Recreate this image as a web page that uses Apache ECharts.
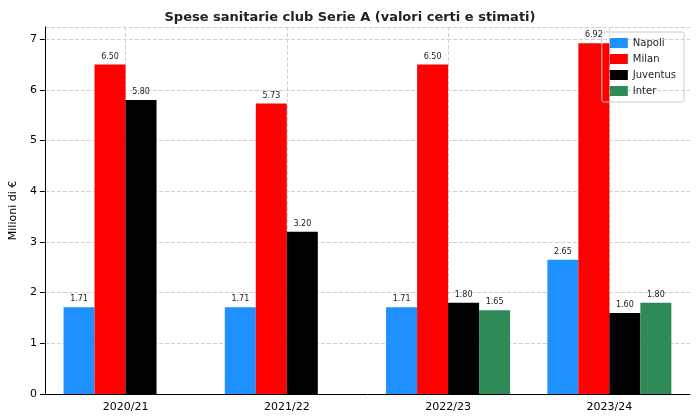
<!DOCTYPE html>
<html><head><meta charset="utf-8">
<script src="https://cdn.jsdelivr.net/npm/echarts@6/dist/echarts.min.js"></script>
<style>html,body{margin:0;padding:0;background:#fff}#c{width:700px;height:420px}</style>
</head><body><div id="c"></div>
<script>
const categories = ['2020/21','2021/22','2022/23','2023/24'];
const napoli = [1.71,1.71,1.71,2.65];
const milan = [6.50,5.73,6.50,6.92];
const juventus = [5.80,3.20,1.80,1.60];
const inter = [null,null,1.65,1.80];
const names = ['Napoli','Milan','Juventus','Inter'];
const colors = ['#1e90ff','#ff0000','#000000','#2e8b57'];
const datas = [napoli,milan,juventus,inter];
const chart = echarts.init(document.getElementById('c'));
chart.setOption({
  animation:false,
  title:{text:'Spese sanitarie club Serie A (valori certi e stimati)',left:'center',top:6,textStyle:{fontFamily:'DejaVu Sans',fontSize:13,fontWeight:'bold',color:'#222'}},
  grid:{left:37,right:10,top:27,bottom:26},
  legend:{orient:'vertical',right:16,top:32,itemWidth:18,itemHeight:10,itemGap:6,padding:[6,8],borderColor:'#ccc',borderWidth:1,borderRadius:2,icon:'rect',textStyle:{fontFamily:'DejaVu Sans',fontSize:10,color:'#222'},data:names},
  xAxis:{type:'category',data:categories,boundaryGap:true,
    axisLine:{lineStyle:{color:'#000'}},axisTick:{alignWithLabel:true,lineStyle:{color:'#000'}},
    axisLabel:{fontFamily:'DejaVu Sans',fontSize:11,color:'#000'},
    splitLine:{show:true,alignWithLabel:true,lineStyle:{type:'dashed',color:'#d0d0d0'}}},
  yAxis:{type:'value',min:0,max:7.24,interval:1,name:'Milioni di €',nameLocation:'middle',nameGap:22,
    nameTextStyle:{fontFamily:'DejaVu Sans',fontSize:11,color:'#000'},
    axisLine:{show:true,lineStyle:{color:'#000'}},axisTick:{show:true},
    axisLabel:{fontFamily:'DejaVu Sans',fontSize:11,color:'#000',showMaxLabel:false},
    splitLine:{lineStyle:{type:'dashed',color:'#d0d0d0'}}},
  series: names.map((n,i)=>({name:n,type:'bar',data:datas[i],barWidth:31,barGap:'0%',
    itemStyle:{color:colors[i]},
    label:{show:true,position:'top',distance:4,fontFamily:'DejaVu Sans',fontSize:8,color:'#222',formatter:p=>p.value==null?'':p.value.toFixed(2)}}))
});
</script></body></html>
